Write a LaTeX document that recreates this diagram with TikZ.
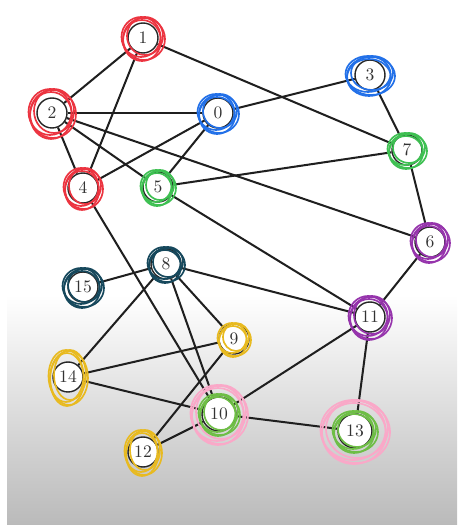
\documentclass[tikz,border=0pt]{standalone}
\usepackage{tikz}
\usetikzlibrary{calc}
\definecolor{redS}{RGB}{236,52,64}
\definecolor{blueS}{RGB}{34,112,232}
\definecolor{greenS}{RGB}{62,192,82}
\definecolor{purpleS}{RGB}{150,52,172}
\definecolor{tealS}{RGB}{22,72,92}
\definecolor{yellowS}{RGB}{232,186,32}
\definecolor{pinkS}{RGB}{250,168,200}
\definecolor{limeS}{RGB}{110,190,70}

\begin{document}
\begin{tikzpicture}[x=0.02cm, y=0.02cm,
    nd/.style={draw=black!85, circle, fill=white, line width=0.8pt, minimum size=0.6cm, inner sep=0pt,
      text=black!80, font=\fontsize{10}{11}\selectfont},
    ndb/.style={nd, minimum size=0.68cm},
    ed/.style={line width=1.15pt, black!88},
    ring/.style={draw=#1, line width=0.95pt},
  ]
  \useasboundingbox (0,0) rectangle (457,527);
  \fill[white] (0,0) rectangle (457,527);
  \shade[top color=white, bottom color=black!27] (7,2) rectangle (457,232);

  \node[nd] (n1) at (143,489) {1};
  \node[nd] (n2) at (52,414) {2};
  \node[nd] (n0) at (218,414) {0};
  \node[nd] (n3) at (370,452) {3};
  \node[nd] (n7) at (407,377) {7};
  \node[nd] (n4) at (83,339) {4};
  \node[nd] (n5) at (158,340) {5};
  \node[nd] (n6) at (430,285) {6};
  \node[nd] (n8) at (166,263) {8};
  \node[nd] (n15) at (83,240) {15};
  \node[nd] (n11) at (370,210) {11};
  \node[nd] (n9) at (234,188) {9};
  \node[nd] (n14) at (68,150) {14};
  \node[ndb] (n10) at (219,113) {10};
  \node[ndb] (n13) at (355,96) {13};
  \node[nd] (n12) at (143,75) {12};

  \draw[ed] (n1) -- (n2);
  \draw[ed] (n1) -- (n4);
  \draw[ed] (n1) -- (n7);
  \draw[ed] (n2) -- (n0);
  \draw[ed] (n2) -- (n4);
  \draw[ed] (n2) -- (n5);
  \draw[ed] (n2) -- (n6);
  \draw[ed] (n0) -- (n3);
  \draw[ed] (n0) -- (n4);
  \draw[ed] (n0) -- (n5);
  \draw[ed] (n3) -- (n7);
  \draw[ed] (n7) -- (n5);
  \draw[ed] (n7) -- (n6);
  \draw[ed] (n6) -- (n11);
  \draw[ed] (n5) -- (n11);
  \draw[ed] (n4) -- (n10);
  \draw[ed] (n8) -- (n15);
  \draw[ed] (n8) -- (n11);
  \draw[ed] (n8) -- (n14);
  \draw[ed] (n8) -- (n9);
  \draw[ed] (n8) -- (n10);
  \draw[ed] (n9) -- (n14);
  \draw[ed] (n9) -- (n12);
  \draw[ed] (n14) -- (n10);
  \draw[ed] (n10) -- (n11);
  \draw[ed] (n10) -- (n13);
  \draw[ed] (n10) -- (n12);
  \draw[ed] (n11) -- (n13);

  \foreach \n/\c/\rx/\ry in {n1/redS/21/21, n2/redS/23/24, n4/redS/19/20, n0/blueS/20/19,
      n3/blueS/24/19, n7/greenS/19/17, n5/greenS/17/17, n6/purpleS/19/19, n11/purpleS/21/21,
      n8/tealS/18/17, n15/tealS/20/19, n9/yellowS/16/16, n14/yellowS/19/27, n12/yellowS/18/22,
      n10/limeS/20/20, n13/limeS/22/20, n10/pinkS/28/29, n13/pinkS/34/31} {
    \draw[ring=\c] ($(\n)+(1,-1)$) ellipse [x radius=\rx, y radius=\ry];
    \draw[ring=\c] ($(\n)+(-2,1)$) ellipse [x radius=\rx-1.5, y radius=\ry-1];
    \draw[ring=\c] ($(\n)+(2,2)$) ellipse [x radius=\rx-3, y radius=\ry-2];
    \draw[ring=\c] ($(\n)+(-1,-2.5)$) ellipse [x radius=\rx-2, y radius=\ry-0.5];
  }
\end{tikzpicture}
\end{document}
